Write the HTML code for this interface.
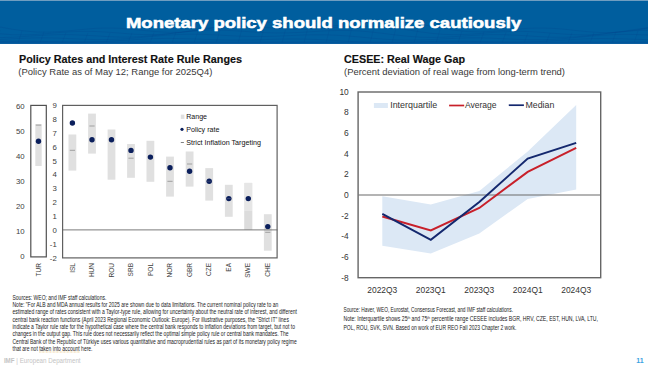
<!DOCTYPE html>
<html><head><meta charset="utf-8"><style>
html,body{margin:0;padding:0;background:#fff;}
body{width:648px;height:366px;overflow:hidden;position:relative;}
svg{position:absolute;left:0;top:0;font-family:"Liberation Sans",sans-serif;}
</style></head><body>
<svg width="648" height="366" viewBox="0 0 648 366">
<rect x="0" y="0" width="648" height="1" fill="#6f9dc0"/>
<rect x="0" y="1" width="648" height="42.9" fill="#005e9e"/>
<polyline points="0,27.0 12,29.2 24,30.9 36,32.0 48,32.1 60,31.5 72,30.5 84,29.3 96,28.3 108,28.0 120,28.3 132,29.3 144,30.5 156,31.6 168,32.3 180,32.2 192,31.2 204,29.5 216,27.3 228,25.1 240,23.3 252,22.2 264,22.0 276,22.5 288,23.6 300,24.7 312,25.7 324,26.0 336,25.7 348,24.8 360,23.5 372,22.4 384,21.6 396,21.7 408,22.6 420,24.2 432,26.4 444,28.6 456,30.4 468,31.6 480,31.9 492,31.4 504,30.4 516,29.3 528,28.3 540,28.0 552,28.3 564,29.2 576,30.5 588,31.7 600,32.5 612,32.5 624,31.7 636,30.1 648,28.0" fill="none" stroke="#003f85" stroke-opacity="0.35" stroke-width="0.6"/>
<polyline points="0,33.8 12,34.7 24,34.9 36,34.5 48,33.5 60,32.5 72,31.7 84,31.3 96,31.5 108,32.2 120,33.1 132,34.1 144,34.6 156,34.6 168,33.8 180,32.4 192,30.6 204,28.7 216,27.2 228,26.2 240,26.0 252,26.4 264,27.3 276,28.3 288,29.1 300,29.5 312,29.3 324,28.6 336,27.6 348,26.7 360,26.1 372,26.1 384,26.8 396,28.2 408,29.9 420,31.8 432,33.4 444,34.4 456,34.7 468,34.3 480,33.5 492,32.5 504,31.7 516,31.3 528,31.5 540,32.2 552,33.2 564,34.1 576,34.8 588,34.9 600,34.2 612,32.9 624,31.1 636,29.3 648,27.7" fill="none" stroke="#003f85" stroke-opacity="0.35" stroke-width="0.6"/>
<polyline points="0,37.6 12,37.3 24,36.5 36,35.7 48,35.0 60,34.6 72,34.7 84,35.2 96,35.9 108,36.6 120,37.1 132,37.0 144,36.4 156,35.3 168,33.9 180,32.4 192,31.1 204,30.3 216,30.1 228,30.4 240,31.1 252,31.9 264,32.6 276,33.0 288,32.9 300,32.4 312,31.7 324,30.9 336,30.5 348,30.5 360,31.0 372,32.1 384,33.5 396,35.0 408,36.3 420,37.2 432,37.4 444,37.2 456,36.5 468,35.7 480,35.0 492,34.6 504,34.7 516,35.2 528,35.9 540,36.7 552,37.2 564,37.3 576,36.8 588,35.7 600,34.3 612,32.8 624,31.5 636,30.6 648,30.3" fill="none" stroke="#003f85" stroke-opacity="0.35" stroke-width="0.6"/>
<polyline points="0,39.5 12,38.8 24,38.2 36,37.9 48,37.9 60,38.2 72,38.7 84,39.2 96,39.6 108,39.5 120,39.1 132,38.3 144,37.2 156,36.1 168,35.1 180,34.4 192,34.2 204,34.4 216,34.9 228,35.6 240,36.2 252,36.5 264,36.5 276,36.2 288,35.7 300,35.1 312,34.8 324,34.8 336,35.2 348,36.0 360,37.0 372,38.2 384,39.2 396,39.9 408,40.1 420,39.9 432,39.5 444,38.8 456,38.3 468,37.9 480,37.9 492,38.2 504,38.8 516,39.3 528,39.7 540,39.7 552,39.4 564,38.6 576,37.5 588,36.4 600,35.4 612,34.7 624,34.4 636,34.5 648,35.0" fill="none" stroke="#003f85" stroke-opacity="0.35" stroke-width="0.6"/>
<polyline points="0,41.4 12,41.2 24,41.1 36,41.3 48,41.6 60,41.9 72,42.1 84,42.1 96,41.8 108,41.3 120,40.5 132,39.8 144,39.1 156,38.6 168,38.4 180,38.6 192,38.9 204,39.3 216,39.7 228,40.0 240,40.0 252,39.9 264,39.6 276,39.2 288,39.0 300,39.0 312,39.3 324,39.8 336,40.5 348,41.3 360,42.0 372,42.5 384,42.7 396,42.6 408,42.3 420,41.9 432,41.5 444,41.2 456,41.2 468,41.3 480,41.7 492,42.0 504,42.2 516,42.3 528,42.0 540,41.5 552,40.8 564,40.0 576,39.3 588,38.8 600,38.5 612,38.6 624,38.9 636,39.3 648,39.7" fill="none" stroke="#003f85" stroke-opacity="0.35" stroke-width="0.6"/>
<line x1="0" y1="30.0" x2="-4" y2="43" stroke="#003f85" stroke-opacity="0.25" stroke-width="0.6"/>
<line x1="22" y1="30.9" x2="18" y2="43" stroke="#003f85" stroke-opacity="0.25" stroke-width="0.6"/>
<line x1="44" y1="31.8" x2="40" y2="43" stroke="#003f85" stroke-opacity="0.25" stroke-width="0.6"/>
<line x1="66" y1="32.4" x2="62" y2="43" stroke="#003f85" stroke-opacity="0.25" stroke-width="0.6"/>
<line x1="88" y1="32.9" x2="84" y2="43" stroke="#003f85" stroke-opacity="0.25" stroke-width="0.6"/>
<line x1="110" y1="33.0" x2="106" y2="43" stroke="#003f85" stroke-opacity="0.25" stroke-width="0.6"/>
<line x1="132" y1="32.9" x2="128" y2="43" stroke="#003f85" stroke-opacity="0.25" stroke-width="0.6"/>
<line x1="154" y1="32.4" x2="150" y2="43" stroke="#003f85" stroke-opacity="0.25" stroke-width="0.6"/>
<line x1="176" y1="31.8" x2="172" y2="43" stroke="#003f85" stroke-opacity="0.25" stroke-width="0.6"/>
<line x1="198" y1="30.9" x2="194" y2="43" stroke="#003f85" stroke-opacity="0.25" stroke-width="0.6"/>
<line x1="220" y1="30.0" x2="216" y2="43" stroke="#003f85" stroke-opacity="0.25" stroke-width="0.6"/>
<line x1="242" y1="29.1" x2="238" y2="43" stroke="#003f85" stroke-opacity="0.25" stroke-width="0.6"/>
<line x1="264" y1="28.2" x2="260" y2="43" stroke="#003f85" stroke-opacity="0.25" stroke-width="0.6"/>
<line x1="286" y1="27.6" x2="282" y2="43" stroke="#003f85" stroke-opacity="0.25" stroke-width="0.6"/>
<line x1="308" y1="27.1" x2="304" y2="43" stroke="#003f85" stroke-opacity="0.25" stroke-width="0.6"/>
<line x1="330" y1="27.0" x2="326" y2="43" stroke="#003f85" stroke-opacity="0.25" stroke-width="0.6"/>
<line x1="352" y1="27.1" x2="348" y2="43" stroke="#003f85" stroke-opacity="0.25" stroke-width="0.6"/>
<line x1="374" y1="27.6" x2="370" y2="43" stroke="#003f85" stroke-opacity="0.25" stroke-width="0.6"/>
<line x1="396" y1="28.2" x2="392" y2="43" stroke="#003f85" stroke-opacity="0.25" stroke-width="0.6"/>
<line x1="418" y1="29.1" x2="414" y2="43" stroke="#003f85" stroke-opacity="0.25" stroke-width="0.6"/>
<line x1="440" y1="30.0" x2="436" y2="43" stroke="#003f85" stroke-opacity="0.25" stroke-width="0.6"/>
<line x1="462" y1="30.9" x2="458" y2="43" stroke="#003f85" stroke-opacity="0.25" stroke-width="0.6"/>
<line x1="484" y1="31.8" x2="480" y2="43" stroke="#003f85" stroke-opacity="0.25" stroke-width="0.6"/>
<line x1="506" y1="32.4" x2="502" y2="43" stroke="#003f85" stroke-opacity="0.25" stroke-width="0.6"/>
<line x1="528" y1="32.9" x2="524" y2="43" stroke="#003f85" stroke-opacity="0.25" stroke-width="0.6"/>
<line x1="550" y1="33.0" x2="546" y2="43" stroke="#003f85" stroke-opacity="0.25" stroke-width="0.6"/>
<line x1="572" y1="32.9" x2="568" y2="43" stroke="#003f85" stroke-opacity="0.25" stroke-width="0.6"/>
<line x1="594" y1="32.4" x2="590" y2="43" stroke="#003f85" stroke-opacity="0.25" stroke-width="0.6"/>
<line x1="616" y1="31.8" x2="612" y2="43" stroke="#003f85" stroke-opacity="0.25" stroke-width="0.6"/>
<line x1="638" y1="30.9" x2="634" y2="43" stroke="#003f85" stroke-opacity="0.25" stroke-width="0.6"/>
<rect x="0" y="41.6" width="648" height="2.3" fill="#00529a" fill-opacity="0.6"/>
<text x="125.9" y="27.6" font-size="15.5" fill="#fff" font-weight="bold" text-anchor="start" textLength="395.3" lengthAdjust="spacingAndGlyphs" stroke="#fff" stroke-width="0.55">Monetary policy should normalize cautiously</text>
<text x="19" y="63.1" font-size="10.8" fill="#111" font-weight="bold" text-anchor="start" textLength="223" lengthAdjust="spacingAndGlyphs" stroke="#111" stroke-width="0.15">Policy Rates and Interest Rate Rule Ranges</text>
<text x="18.3" y="75" font-size="9.3" fill="#383838" font-weight="normal" text-anchor="start" textLength="194" lengthAdjust="spacingAndGlyphs" >(Policy Rate as of May 12; Range for 2025Q4)</text>
<text x="344" y="63.1" font-size="10.8" fill="#111" font-weight="bold" text-anchor="start" textLength="121" lengthAdjust="spacingAndGlyphs" stroke="#111" stroke-width="0.15">CESEE: Real Wage Gap</text>
<text x="344" y="75" font-size="9.3" fill="#383838" font-weight="normal" text-anchor="start" textLength="221" lengthAdjust="spacingAndGlyphs" >(Percent deviation of real wage from long-term trend)</text>
<text x="24.7" y="108.9" font-size="7.8" fill="#404040" font-weight="normal" text-anchor="end" >60</text>
<text x="24.7" y="133.95" font-size="7.8" fill="#404040" font-weight="normal" text-anchor="end" >50</text>
<text x="24.7" y="159.0" font-size="7.8" fill="#404040" font-weight="normal" text-anchor="end" >40</text>
<text x="24.7" y="184.05" font-size="7.8" fill="#404040" font-weight="normal" text-anchor="end" >30</text>
<text x="24.7" y="209.1" font-size="7.8" fill="#404040" font-weight="normal" text-anchor="end" >20</text>
<text x="24.7" y="234.14999999999998" font-size="7.8" fill="#404040" font-weight="normal" text-anchor="end" >10</text>
<text x="24.7" y="259.2" font-size="7.8" fill="#404040" font-weight="normal" text-anchor="end" >0</text>
<text x="56.8" y="108.2" font-size="7.8" fill="#404040" font-weight="normal" text-anchor="end" >9</text>
<text x="56.8" y="122.05" font-size="7.8" fill="#404040" font-weight="normal" text-anchor="end" >8</text>
<text x="56.8" y="135.89999999999998" font-size="7.8" fill="#404040" font-weight="normal" text-anchor="end" >7</text>
<text x="56.8" y="149.75" font-size="7.8" fill="#404040" font-weight="normal" text-anchor="end" >6</text>
<text x="56.8" y="163.6" font-size="7.8" fill="#404040" font-weight="normal" text-anchor="end" >5</text>
<text x="56.8" y="177.45" font-size="7.8" fill="#404040" font-weight="normal" text-anchor="end" >4</text>
<text x="56.8" y="191.29999999999998" font-size="7.8" fill="#404040" font-weight="normal" text-anchor="end" >3</text>
<text x="56.8" y="205.14999999999998" font-size="7.8" fill="#404040" font-weight="normal" text-anchor="end" >2</text>
<text x="56.8" y="219.0" font-size="7.8" fill="#404040" font-weight="normal" text-anchor="end" >1</text>
<text x="56.8" y="232.84999999999997" font-size="7.8" fill="#404040" font-weight="normal" text-anchor="end" >0</text>
<text x="56.8" y="246.7" font-size="7.8" fill="#404040" font-weight="normal" text-anchor="end" >-1</text>
<text x="56.8" y="260.55" font-size="7.8" fill="#404040" font-weight="normal" text-anchor="end" >-2</text>
<rect x="35.3" y="124.1" width="6.4" height="41.900000000000006" fill="#e0e0e0"/>
<rect x="35.8" y="124.6" width="5.4" height="1" fill="#a0a0a0"/>
<circle cx="38.5" cy="141.3" r="2.7" fill="#0b1f5c"/>
<rect x="68.5" y="134.5" width="7.8" height="36.1" fill="#e0e0e0"/>
<rect x="69.8" y="149.8" width="5.2" height="1" fill="#a0a0a0"/>
<rect x="88.1" y="113.6" width="7.8" height="40.0" fill="#e0e0e0"/>
<rect x="89.4" y="125.5" width="5.2" height="1" fill="#a0a0a0"/>
<rect x="107.6" y="129.5" width="7.8" height="50.2" fill="#e0e0e0"/>
<rect x="127.1" y="144" width="7.8" height="33.8" fill="#e0e0e0"/>
<rect x="128.4" y="157.7" width="5.2" height="1" fill="#a0a0a0"/>
<rect x="146.5" y="140.8" width="7.8" height="41.0" fill="#e0e0e0"/>
<rect x="166.1" y="156.6" width="7.8" height="40.0" fill="#e0e0e0"/>
<rect x="167.4" y="180.8" width="5.2" height="1" fill="#a0a0a0"/>
<rect x="185.7" y="151.5" width="7.8" height="35.1" fill="#e0e0e0"/>
<rect x="187.0" y="163.5" width="5.2" height="1" fill="#a0a0a0"/>
<rect x="205.3" y="168.1" width="7.8" height="32.5" fill="#e0e0e0"/>
<rect x="206.6" y="180.7" width="5.2" height="1" fill="#a0a0a0"/>
<rect x="224.9" y="184.8" width="7.8" height="32.0" fill="#e0e0e0"/>
<rect x="226.2" y="198.1" width="5.2" height="1" fill="#a0a0a0"/>
<rect x="244.4" y="182.9" width="7.8" height="46.9" fill="#e0e0e0"/>
<rect x="263.9" y="214.2" width="7.8" height="36.5" fill="#e0e0e0"/>
<rect x="265.2" y="231.8" width="5.2" height="1" fill="#a0a0a0"/>
<rect x="244.4" y="182.9" width="7.8" height="28.1" fill="#e6e6e6"/><rect x="244.4" y="211" width="7.8" height="18.8" fill="#dcdcdc"/>
<circle cx="72.4" cy="123" r="2.7" fill="#0b1f5c"/>
<circle cx="92.0" cy="139.8" r="2.7" fill="#0b1f5c"/>
<circle cx="111.5" cy="139.7" r="2.7" fill="#0b1f5c"/>
<circle cx="131.0" cy="150.4" r="2.7" fill="#0b1f5c"/>
<circle cx="150.4" cy="157.1" r="2.7" fill="#0b1f5c"/>
<circle cx="170.0" cy="167.8" r="2.7" fill="#0b1f5c"/>
<circle cx="189.6" cy="171.2" r="2.7" fill="#0b1f5c"/>
<circle cx="209.2" cy="181.2" r="2.7" fill="#0b1f5c"/>
<rect x="207.0" y="180.8" width="4.4" height="0.8" fill="#6a7090" fill-opacity="0.5"/>
<circle cx="228.8" cy="198.6" r="2.7" fill="#0b1f5c"/>
<rect x="226.6" y="198.2" width="4.4" height="0.8" fill="#6a7090" fill-opacity="0.5"/>
<circle cx="248.3" cy="198.6" r="2.7" fill="#0b1f5c"/>
<circle cx="267.8" cy="226.6" r="2.7" fill="#0b1f5c"/>
<line x1="62.6" y1="229.9" x2="277.4" y2="229.9" stroke="#7a7a7a" stroke-width="1"/>
<rect x="30.8" y="105.4" width="15.5" height="151.5" fill="none" stroke="#505050" stroke-width="1.2"/>
<rect x="62.6" y="105.4" width="214.5" height="152.5" fill="none" stroke="#606060" stroke-width="1.2"/>
<text transform="translate(40.5,263) rotate(-90)" font-size="7" fill="#404040" text-anchor="end" textLength="13.4" lengthAdjust="spacingAndGlyphs">TUR</text>
<text transform="translate(74.5,263) rotate(-90)" font-size="7" fill="#404040" text-anchor="end" textLength="9.8" lengthAdjust="spacingAndGlyphs">ISL</text>
<text transform="translate(94.1,263) rotate(-90)" font-size="7" fill="#404040" text-anchor="end" textLength="14.1" lengthAdjust="spacingAndGlyphs">HUN</text>
<text transform="translate(113.6,263) rotate(-90)" font-size="7" fill="#404040" text-anchor="end" textLength="14.5" lengthAdjust="spacingAndGlyphs">ROU</text>
<text transform="translate(133.1,263) rotate(-90)" font-size="7" fill="#404040" text-anchor="end" textLength="13.4" lengthAdjust="spacingAndGlyphs">SRB</text>
<text transform="translate(152.5,263) rotate(-90)" font-size="7" fill="#404040" text-anchor="end" textLength="13.0" lengthAdjust="spacingAndGlyphs">POL</text>
<text transform="translate(172.1,263) rotate(-90)" font-size="7" fill="#404040" text-anchor="end" textLength="14.5" lengthAdjust="spacingAndGlyphs">NOR</text>
<text transform="translate(191.7,263) rotate(-90)" font-size="7" fill="#404040" text-anchor="end" textLength="14.1" lengthAdjust="spacingAndGlyphs">GBR</text>
<text transform="translate(211.3,263) rotate(-90)" font-size="7" fill="#404040" text-anchor="end" textLength="13.0" lengthAdjust="spacingAndGlyphs">CZE</text>
<text transform="translate(230.9,263) rotate(-90)" font-size="7" fill="#404040" text-anchor="end" textLength="8.7" lengthAdjust="spacingAndGlyphs">EA</text>
<text transform="translate(250.4,263) rotate(-90)" font-size="7" fill="#404040" text-anchor="end" textLength="14.8" lengthAdjust="spacingAndGlyphs">SWE</text>
<text transform="translate(269.9,263) rotate(-90)" font-size="7" fill="#404040" text-anchor="end" textLength="13.7" lengthAdjust="spacingAndGlyphs">CHE</text>
<rect x="180.8" y="114.6" width="3.6" height="4.3" fill="#e0e0e0"/>
<circle cx="182" cy="129.3" r="1.6" fill="#0b1f5c"/>
<rect x="180.8" y="142" width="3.1" height="1" fill="#808080"/>
<text x="186.2" y="119.3" font-size="7.6" fill="#111" font-weight="normal" text-anchor="start" textLength="20.8" lengthAdjust="spacingAndGlyphs" >Range</text>
<text x="186.2" y="132.0" font-size="7.6" fill="#111" font-weight="normal" text-anchor="start" textLength="33.2" lengthAdjust="spacingAndGlyphs" >Policy rate</text>
<text x="186.2" y="145.0" font-size="7.6" fill="#111" font-weight="normal" text-anchor="start" textLength="74.8" lengthAdjust="spacingAndGlyphs" >Strict Inflation Targeting</text>
<polygon points="382.3,196.3 430.8,204.5 479.3,190.9 527.7,151.5 576.2,104.9 576.2,189.6 527.7,198.9 479.3,233.6 430.8,253.5 382.3,245.7" fill="#dce8f5"/>
<line x1="358.5" y1="195.0" x2="601" y2="195.0" stroke="#6a6a6a" stroke-width="1.2"/>
<polyline points="382.3,216.5 430.8,230.5 479.3,208.0 527.7,171.9 576.2,147.8" fill="none" stroke="#c8202a" stroke-width="2" stroke-linejoin="miter"/>
<polyline points="382.3,213.8 430.8,239.9 479.3,202.0 527.7,158.6 576.2,142.9" fill="none" stroke="#14286e" stroke-width="2" stroke-linejoin="miter"/>
<rect x="358.1" y="92" width="242.6" height="185.7" fill="none" stroke="#666" stroke-width="1.4"/>
<text x="348.7" y="94.80000000000001" font-size="9.3" fill="#333" font-weight="normal" text-anchor="end" textLength="9.3" lengthAdjust="spacingAndGlyphs" >10</text>
<text x="348.7" y="115.46000000000001" font-size="9.3" fill="#333" font-weight="normal" text-anchor="end" textLength="4.7" lengthAdjust="spacingAndGlyphs" >8</text>
<text x="348.7" y="136.12" font-size="9.3" fill="#333" font-weight="normal" text-anchor="end" textLength="4.7" lengthAdjust="spacingAndGlyphs" >6</text>
<text x="348.7" y="156.78000000000003" font-size="9.3" fill="#333" font-weight="normal" text-anchor="end" textLength="4.7" lengthAdjust="spacingAndGlyphs" >4</text>
<text x="348.7" y="177.44000000000003" font-size="9.3" fill="#333" font-weight="normal" text-anchor="end" textLength="4.7" lengthAdjust="spacingAndGlyphs" >2</text>
<text x="348.7" y="198.10000000000002" font-size="9.3" fill="#333" font-weight="normal" text-anchor="end" textLength="4.7" lengthAdjust="spacingAndGlyphs" >0</text>
<text x="348.7" y="218.76000000000002" font-size="9.3" fill="#333" font-weight="normal" text-anchor="end" textLength="7.4" lengthAdjust="spacingAndGlyphs" >-2</text>
<text x="348.7" y="239.42000000000002" font-size="9.3" fill="#333" font-weight="normal" text-anchor="end" textLength="7.4" lengthAdjust="spacingAndGlyphs" >-4</text>
<text x="348.7" y="260.08000000000004" font-size="9.3" fill="#333" font-weight="normal" text-anchor="end" textLength="7.4" lengthAdjust="spacingAndGlyphs" >-6</text>
<text x="348.7" y="280.74" font-size="9.3" fill="#333" font-weight="normal" text-anchor="end" textLength="7.4" lengthAdjust="spacingAndGlyphs" >-8</text>
<text x="382.3" y="293.1" font-size="9.2" fill="#333" font-weight="normal" text-anchor="middle" textLength="30" lengthAdjust="spacingAndGlyphs" >2022Q3</text>
<text x="430.8" y="293.1" font-size="9.2" fill="#333" font-weight="normal" text-anchor="middle" textLength="30" lengthAdjust="spacingAndGlyphs" >2023Q1</text>
<text x="479.3" y="293.1" font-size="9.2" fill="#333" font-weight="normal" text-anchor="middle" textLength="30" lengthAdjust="spacingAndGlyphs" >2023Q3</text>
<text x="527.7" y="293.1" font-size="9.2" fill="#333" font-weight="normal" text-anchor="middle" textLength="30" lengthAdjust="spacingAndGlyphs" >2024Q1</text>
<text x="576.2" y="293.1" font-size="9.2" fill="#333" font-weight="normal" text-anchor="middle" textLength="30" lengthAdjust="spacingAndGlyphs" >2024Q3</text>
<rect x="373.9" y="103" width="14" height="5" fill="#dce8f5"/>
<text x="390.2" y="108.3" font-size="8.9" fill="#333" font-weight="normal" text-anchor="start" textLength="47" lengthAdjust="spacingAndGlyphs" >Interquartile</text>
<line x1="449.1" y1="105.5" x2="464.2" y2="105.5" stroke="#c8202a" stroke-width="1.7"/>
<text x="464.9" y="108.3" font-size="8.9" fill="#333" font-weight="normal" text-anchor="start" textLength="31.7" lengthAdjust="spacingAndGlyphs" >Average</text>
<line x1="508.8" y1="105.2" x2="523.9" y2="105.2" stroke="#14286e" stroke-width="1.7"/>
<text x="525.5" y="108.3" font-size="8.9" fill="#333" font-weight="normal" text-anchor="start" textLength="28.8" lengthAdjust="spacingAndGlyphs" >Median</text>
<text x="12.5" y="299.9" font-size="6.5" fill="#1a1a1a" font-weight="normal" text-anchor="start" textLength="93.8" lengthAdjust="spacingAndGlyphs" >Sources: WEO; and IMF staff calculations.</text>
<text x="12.5" y="307.17999999999995" font-size="6.5" fill="#1a1a1a" font-weight="normal" text-anchor="start" textLength="265.7" lengthAdjust="spacingAndGlyphs" >Note: "For ALB and MDA annual results for 2025 are shown due to data limitations. The current nominal policy rate to an</text>
<text x="12.5" y="314.46" font-size="6.5" fill="#1a1a1a" font-weight="normal" text-anchor="start" textLength="284.4" lengthAdjust="spacingAndGlyphs" >estimated range of rates consistent with a Taylor-type rule, allowing for uncertainty about the neutral rate of interest, and different</text>
<text x="12.5" y="321.73999999999995" font-size="6.5" fill="#1a1a1a" font-weight="normal" text-anchor="start" textLength="276.4" lengthAdjust="spacingAndGlyphs" >central bank reaction functions (April 2023 Regional Economic Outlook: Europe). For illustrative purposes, the "Strict IT" lines</text>
<text x="12.5" y="329.02" font-size="6.5" fill="#1a1a1a" font-weight="normal" text-anchor="start" textLength="282.5" lengthAdjust="spacingAndGlyphs" >indicate a Taylor rule rate for the hypothetical case where the central bank responds to inflation deviations from target, but not to</text>
<text x="12.5" y="336.29999999999995" font-size="6.5" fill="#1a1a1a" font-weight="normal" text-anchor="start" textLength="276.1" lengthAdjust="spacingAndGlyphs" >changes in the output gap. This rule does not necessarily reflect the optimal simple policy rule or central bank mandates. The</text>
<text x="12.5" y="343.58" font-size="6.5" fill="#1a1a1a" font-weight="normal" text-anchor="start" textLength="284.2" lengthAdjust="spacingAndGlyphs" >Central Bank of the Republic of Türkiye uses various quantitative and macroprudential rules as part of its monetary policy regime</text>
<text x="12.5" y="350.85999999999996" font-size="6.5" fill="#1a1a1a" font-weight="normal" text-anchor="start" textLength="80.0" lengthAdjust="spacingAndGlyphs" >that are not taken into account here.</text>
<text x="343.5" y="312.4" font-size="6.8" fill="#1a1a1a" font-weight="normal" text-anchor="start" textLength="169.5" lengthAdjust="spacingAndGlyphs" >Source: Haver, WEO, Eurostat, Consensus Forecast, and IMF staff calculations.</text>
<text x="343.5" y="321.4" font-size="6.8" fill="#1a1a1a" textLength="254.5" lengthAdjust="spacingAndGlyphs">Note: Interquartile shows 25<tspan font-size="4.2" dy="-2.2">th</tspan><tspan dy="2.2"> and 75</tspan><tspan font-size="4.2" dy="-2.2">th</tspan><tspan dy="2.2"> percentile range CESEE includes BGR, HRV, CZE, EST, HUN, LVA, LTU,</tspan></text>
<text x="343.5" y="330.4" font-size="6.8" fill="#1a1a1a" font-weight="normal" text-anchor="start" textLength="173.0" lengthAdjust="spacingAndGlyphs" >POL, ROU, SVK, SVN. Based on work of EUR REO Fall 2023 Chapter 2 work.</text>
<line x1="39" y1="352" x2="80" y2="352" stroke="#d9a33a" stroke-width="0.9" stroke-dasharray="0.8 0.6" stroke-opacity="0.6"/>
<text x="3.9" y="363" font-size="7.3" fill="#c4c4c4" textLength="76.7" lengthAdjust="spacingAndGlyphs"><tspan font-weight="bold">IMF</tspan> | European Department</text>
<text x="643.6" y="363" font-size="7" fill="#3aa2e2" font-weight="bold" text-anchor="end" >11</text>
</svg>
</body></html>
